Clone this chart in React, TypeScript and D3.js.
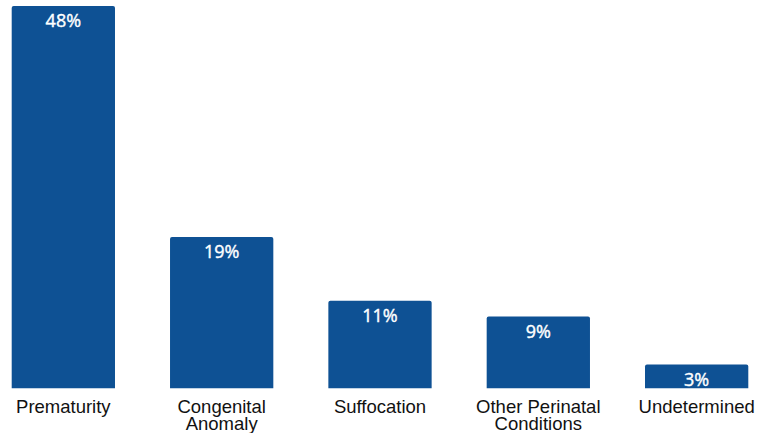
import React from "react";
import * as d3 from "d3";

const categories: string[][] = [
  ["Prematurity"],
  ["Congenital", "Anomaly"],
  ["Suffocation"],
  ["Other Perinatal", "Conditions"],
  ["Undetermined"],
];
const values = [48, 19, 11, 9, 3];
const valueLabels = ["48%", "19%", "11%", "9%", "3%"];

const W = 761;
const H = 433;
const BASE = 388.3;
const TOP = 6;
const BAR = "#0E5194";

export default function App() {
  const keys = categories.map((c) => c.join(" "));
  const x = d3
    .scaleBand<string>()
    .domain(keys)
    .range([11.7, 748.3])
    .paddingInner(0.3476)
    .paddingOuter(0);
  const y = d3.scaleLinear().domain([0, 48]).range([BASE, TOP]);
  const r = 2;

  return (
    <svg
      width={W}
      height={H}
      style={{ position: "absolute", left: 0, top: 0, background: "#fff" }}
    >
      {values.map((v, i) => {
        const x0 = x(keys[i])!;
        const bw = x.bandwidth();
        const y0 = y(v);
        const path = `M${x0},${BASE}V${y0 + r}Q${x0},${y0} ${x0 + r},${y0}H${x0 + bw - r}Q${x0 + bw},${y0} ${x0 + bw},${y0 + r}V${BASE}Z`;
        return (
          <g key={keys[i]}>
            <path d={path} fill={BAR} />
            <text
              x={x0 + bw / 2}
              y={y0 + 21.3}
              textAnchor="middle"
              fill="#fff"
              stroke="#fff"
              strokeWidth={0.4}
              fontFamily="'Open Sans', sans-serif"
              fontWeight={400}
              fontSize={18}
            >
              {valueLabels[i]}
            </text>
            <text
              x={x0 + bw / 2}
              textAnchor="middle"
              fill="#111"
              fontFamily="'Liberation Sans', Arial, sans-serif"
              fontSize={18.5}
            >
              {categories[i].map((line, j) => (
                <tspan key={j} x={x0 + bw / 2} y={412.5 + j * 17}>
                  {line}
                </tspan>
              ))}
            </text>
          </g>
        );
      })}
    </svg>
  );
}
